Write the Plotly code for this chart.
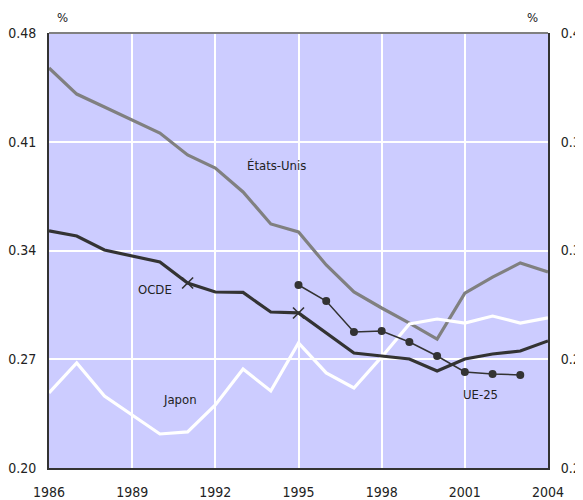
import plotly.graph_objects as go

years = list(range(1986, 2005))
us = [0.4575, 0.4407, 0.4324, 0.4240, 0.4156, 0.4015, 0.3931, 0.3777, 0.3571, 0.3519,
      0.3307, 0.3133, 0.3030, 0.2933, 0.2830, 0.3126, 0.3229, 0.3320, 0.3262]
oecd = [0.3526, 0.3493, 0.3403, 0.3365, 0.3326, 0.3191, 0.3133, 0.3130, 0.3004, 0.2998,
        0.2869, 0.2740, 0.2721, 0.2702, 0.2624, 0.2702, 0.2734, 0.2753, 0.2818]
japan = [0.2483, 0.2676, 0.2463, 0.2341, 0.2219, 0.2232, 0.2406, 0.2637, 0.2496, 0.2805,
         0.2612, 0.2515, 0.2715, 0.2927, 0.2959, 0.2933, 0.2978, 0.2933, 0.2966]
eu_years = list(range(1995, 2004))
eu25 = [0.3178, 0.3075, 0.2875, 0.2882, 0.2811, 0.2721, 0.2618, 0.2605, 0.2599]
oecd_mark_years = [1991, 1995]

left_ticks = [0.20, 0.27, 0.34, 0.41, 0.48]
right_ticks = [0.20, 0.25, 0.30, 0.35, 0.40]
x_ticks = [1986, 1989, 1992, 1995, 1998, 2001, 2004]

FONT = "DejaVu Sans Condensed, Liberation Sans Narrow, Roboto, sans-serif"
TXT = "#222222"

fig = go.Figure()
fig.add_trace(go.Scatter(x=years, y=us, mode="lines",
                         line=dict(color="#808080", width=3.2), hoverinfo="skip"))
fig.add_trace(go.Scatter(x=years, y=japan, mode="lines",
                         line=dict(color="#ffffff", width=3.2), hoverinfo="skip"))
fig.add_trace(go.Scatter(x=years, y=oecd, mode="lines",
                         line=dict(color="#333333", width=3.2), hoverinfo="skip"))
fig.add_trace(go.Scatter(x=oecd_mark_years,
                         y=[oecd[years.index(y)] for y in oecd_mark_years],
                         mode="markers",
                         marker=dict(symbol="x-thin", size=11, line=dict(color="#333333", width=1.6)),
                         hoverinfo="skip"))
fig.add_trace(go.Scatter(x=eu_years, y=eu25, mode="lines+markers",
                         line=dict(color="#333333", width=1.5),
                         marker=dict(color="#333333", size=8), hoverinfo="skip"))
# invisible trace on right axis
fig.add_trace(go.Scatter(x=[1986], y=[0.3], yaxis="y2", mode="markers",
                         marker=dict(opacity=0), hoverinfo="skip"))

# figure sits at an 8px body offset in the page
W, H = 575, 492
L, R, T, B = 41, 35, 25, 32
PW, PH = W - L - R, H - T - B

annots = [
    dict(x=1994.22, y=0.3950, text="États-Unis"),
    dict(x=1989.82, y=0.3146, text="OCDE"),
    dict(x=1990.73, y=0.2444, text="Japon"),
    dict(x=2001.58, y=0.2476, text="UE-25"),
]
annotations = [dict(x=a["x"], y=a["y"], text=a["text"], xref="x", yref="y", showarrow=False,
                    font=dict(family=FONT, size=13, color=TXT)) for a in annots]
for px in [62, 532]:
    annotations.append(dict(x=(px - 8 - L) / PW, y=1 + (33 - 17) / PH, xref="paper", yref="paper",
                            text="%", showarrow=False, yanchor="middle", xanchor="center",
                            font=dict(family=FONT, size=13, color=TXT)))

fig.update_layout(
    width=W, height=H,
    margin=dict(l=L, r=R, t=T, b=B),
    paper_bgcolor="#ffffff",
    plot_bgcolor="#ccccff",
    showlegend=False,
    font=dict(family=FONT, size=13, color=TXT),
    annotations=annotations,
    xaxis=dict(range=[1986, 2004], tickvals=x_ticks, ticktext=[str(v) for v in x_ticks],
               showgrid=True, gridcolor="#ffffff", gridwidth=1.5, zeroline=False,
               showline=True, linecolor="#333333", linewidth=2, mirror=False,
               ticks="outside", ticklen=10, tickcolor="rgba(0,0,0,0)",
               tickfont=dict(family=FONT, size=14, color=TXT), automargin=False),
    yaxis=dict(range=[0.20, 0.48], tickvals=left_ticks, ticktext=["%.2f" % v for v in left_ticks],
               showgrid=True, gridcolor="#ffffff", gridwidth=1.5, zeroline=False,
               showline=True, linecolor="#333333", linewidth=2,
               ticks="outside", ticklen=8, tickcolor="rgba(0,0,0,0)",
               tickfont=dict(family=FONT, size=14, color=TXT), automargin=False),
    yaxis2=dict(range=[0.20, 0.40], tickvals=right_ticks, ticktext=["%.2f" % v for v in right_ticks],
                overlaying="y", side="right", showgrid=False, zeroline=False,
                showline=True, linecolor="#333333", linewidth=2,
                ticks="outside", ticklen=8, tickcolor="rgba(0,0,0,0)",
                tickfont=dict(family=FONT, size=14, color=TXT), automargin=False),
    shapes=[dict(type="line", xref="paper", yref="paper", x0=0, x1=1, y0=1, y1=1,
                 line=dict(color="#808080", width=2))],
)

fig.write_html("out.html")
